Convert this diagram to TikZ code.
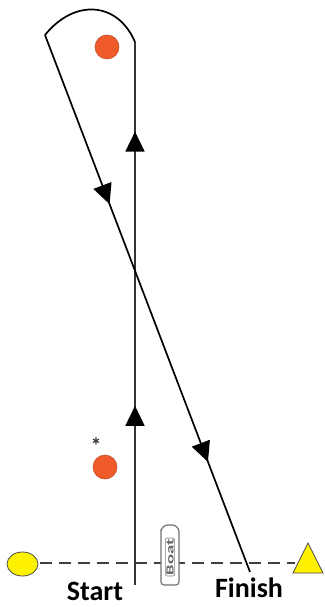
\documentclass[tikz,border=0pt]{standalone}
\usepackage{fontspec}
\setmainfont{Carlito}
\usetikzlibrary{decorations.markings,arrows.meta,shapes.geometric}
\definecolor{mark}{HTML}{F15A2B}
\definecolor{markedge}{HTML}{C8502A}
\definecolor{buoy}{HTML}{FFF200}
\tikzset{
  course/.style={line width=1.7pt, draw=black},
  upline/.style={line width=1.7pt, draw=black!80},
  roundmark/.style={circle, fill=mark, draw=markedge, line width=0.6pt, minimum size=24pt, inner sep=0pt},
  label/.style={font=\fontsize{28}{30}\selectfont\bfseries, anchor=base},
}
\begin{document}
\begin{tikzpicture}[x=1pt,y=-1pt, >={Triangle[length=20pt,width=19pt]}]
\useasboundingbox (0,0) rectangle (324,607);
% coordinates
\coordinate (topL) at (45,35);
\coordinate (topR) at (135,42);
\coordinate (vbot) at (135,585);
\coordinate (dbot) at (250,572);
\coordinate (lineL) at (40,563);
\coordinate (lineR) at (295,563);
% marks
\node[roundmark] (m1) at (107,47) {};
\node[roundmark] (m2) at (105,467) {};
\node[font=\fontsize{22}{22}\selectfont\bfseries, text=black!80] (ast) at (96,446) {*};
% start/finish line
\draw[line width=1.5pt, draw=black!75, dash pattern=on 12pt off 7pt] (lineL) -- (lineR);
\node[ellipse, fill=buoy, draw=black!70, line width=0.8pt, minimum width=31pt, minimum height=24pt, inner sep=0pt] (pin) at (22.5,564) {};
\draw[fill=buoy, draw=black!70, line width=0.8pt] (293,573) -- (308,543) -- (323,573) -- cycle;
\coordinate (tri) at (308,563);
% course
\draw[upline, postaction={decorate}, decoration={markings,
   mark=at position 0.33 with {\arrow[black]{>}},
   mark=at position 0.835 with {\arrow[black]{>}}}] (vbot) -- (topR);
\draw[course] (topR) .. controls (118,2) and (75,-2) .. (topL);
\draw[course, postaction={decorate}, decoration={markings,
   mark=at position 0.315 with {\arrow{>}},
   mark=at position 0.795 with {\arrow{>}}}] (topL) -- (dbot);
% boat
\draw[draw=black!55, fill=white, line width=1.2pt, rounded corners=3pt] (161,585) -- (161,532) [rounded corners=7pt] -- (161,525) -- (179,525) [rounded corners=3pt] -- (179,585) -- cycle;
\node[rotate=90, text=black!60, font=\fontsize{11}{11}\selectfont\bfseries, inner sep=1pt, draw=black!50, rounded corners=2pt, line width=0.6pt] (boat) at (170,557) {\scalebox{1.7}[1]{Boat}};
% labels
\node[label] (start) at (95,600) {Start};
\node[label] (finish) at (249,597) {Finish};
\end{tikzpicture}
\end{document}
